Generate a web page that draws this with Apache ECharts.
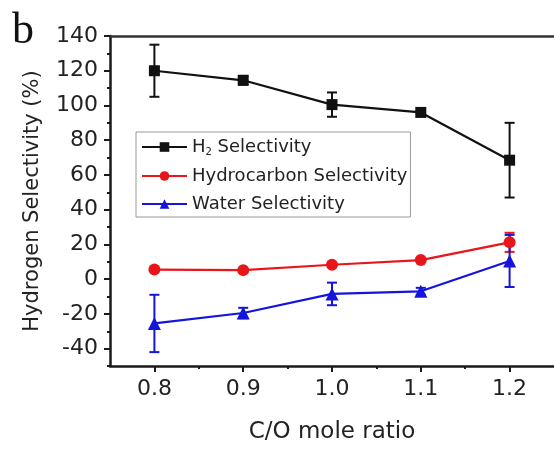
<!DOCTYPE html>
<html><head><meta charset="utf-8">
<script src="https://cdn.jsdelivr.net/npm/echarts/dist/echarts.min.js"></script>
<style>html,body{margin:0;padding:0;background:#fff}#c{width:554px;height:449px}</style>
</head><body><div id="c"></div>
<script>
const ratios = [0.8, 0.9, 1.0, 1.1, 1.2];
const h2Sel = [120, 114.5, 100.5, 96, 68.5];
const h2Err = [15, 2.5, 7, 1, 21.5];
const hcSel = [5.5, 5.2, 8.3, 11, 21.2];
const hcErr = [0.5, 0.5, 0.5, 0.5, 5.5];
const waterSel = [-25.5, -19.5, -8.5, -7, 10.5];
const waterErr = [16.5, 3, 6.5, 2, 15];
const xMajor = [0.8, 0.9, 1.0, 1.1, 1.2];
const xMinor = [0.85, 0.95, 1.05, 1.15];
const yMajor = [-40, -20, 0, 20, 40, 60, 80, 100, 120, 140];
const yMinor = [-50, -30, -10, 10, 30, 50, 70, 90, 110, 130];
const seriesNames = ['H2 Selectivity', 'Hydrocarbon Selectivity', 'Water Selectivity'];

const FONT = 'DejaVu Sans';
const TXT = '#222';
const AX = '#1a1a1a';

function errSeries(vals, errs, color) {
  return {
    type: 'custom',
    silent: true,
    z: 3,
    data: ratios.map((x, i) => [x, vals[i] - errs[i], vals[i] + errs[i]]),
    encode: { x: 0, y: [1, 2] },
    renderItem(params, api) {
      const x = api.value(0);
      const lo = api.coord([x, api.value(1)]);
      const hi = api.coord([x, api.value(2)]);
      const w = 5;
      const style = { stroke: color, lineWidth: 2 };
      return { type: 'group', children: [
        { type: 'line', shape: { x1: lo[0], y1: lo[1], x2: hi[0], y2: hi[1] }, style },
        { type: 'line', shape: { x1: lo[0] - w, y1: lo[1], x2: lo[0] + w, y2: lo[1] }, style },
        { type: 'line', shape: { x1: hi[0] - w, y1: hi[1], x2: hi[0] + w, y2: hi[1] }, style }
      ]};
    }
  };
}
function lineSeries(name, vals, color, symbol, size) {
  return {
    name, type: 'line', z: 4,
    data: ratios.map((x, i) => [x, vals[i]]),
    symbol, symbolSize: size,
    lineStyle: { color, width: 2.2 },
    itemStyle: { color }
  };
}

const chart = echarts.init(document.getElementById('c'), null, { renderer: 'canvas' });
const xBase = { type: 'value', min: 0.75, max: 1.25, splitLine: { show: false } };
const yBase = { type: 'value', min: -50, max: 140, splitLine: { show: false } };
chart.setOption({
  animation: false,
  backgroundColor: '#fff',
  grid: { left: 110, top: 36, right: -7, bottom: 78.5, containLabel: false },
  graphic: [{ type: 'text', left: 12, top: 9, style: { text: 'b', font: '44px "Liberation Serif"', fill: '#111' } }],
  legend: {
    data: seriesNames, orient: 'vertical', left: 136, top: 132,
    itemGap: 10, itemWidth: 45, itemHeight: 12,
    padding: [6, 3, 4, 5], borderColor: '#999', borderWidth: 1,
    formatter: n => n === 'H2 Selectivity' ? '{a|H}{s|2}{a| Selectivity}' : n,
    textStyle: { fontFamily: FONT, fontSize: 18, color: TXT,
      rich: { a: { fontFamily: FONT, fontSize: 18, color: TXT }, s: { fontFamily: FONT, fontSize: 10, color: TXT, padding: [10, 0, 0, 0] } } }
  },
  xAxis: [
    Object.assign({}, xBase, {
      position: 'bottom',
      axisLine: { onZero: false, lineStyle: { color: AX, width: 2.5 } },
      axisTick: { customValues: xMajor, length: 6, lineStyle: { color: AX, width: 2 } },
      axisLabel: { customValues: xMajor, formatter: v => v.toFixed(1), fontFamily: FONT, fontSize: 22, color: TXT, margin: 12 },
      name: 'C/O mole ratio', nameLocation: 'middle', nameGap: 55,
      nameTextStyle: { fontFamily: FONT, fontSize: 23, color: TXT }
    }),
    Object.assign({}, xBase, {
      position: 'bottom',
      axisLine: { show: false, onZero: false },
      axisTick: { customValues: xMinor, length: 3, lineStyle: { color: AX, width: 2 } },
      axisLabel: { show: false }
    }),
    Object.assign({}, xBase, {
      position: 'top',
      axisLine: { onZero: false, lineStyle: { color: '#333', width: 2.5 } },
      axisTick: { show: false }, axisLabel: { show: false }
    })
  ],
  yAxis: [
    Object.assign({}, yBase, {
      position: 'left',
      axisLine: { show: true, onZero: false, lineStyle: { color: AX, width: 2.5 } },
      axisTick: { show: true, customValues: yMajor, length: 6, lineStyle: { color: AX, width: 2 } },
      axisLabel: { customValues: yMajor, fontFamily: FONT, fontSize: 22, color: TXT, margin: 12 },
      name: 'Hydrogen Selectivity (%)', nameLocation: 'middle', nameGap: 67,
      nameTextStyle: { fontFamily: FONT, fontSize: 21, color: TXT }
    }),
    Object.assign({}, yBase, {
      position: 'left',
      axisLine: { show: false, onZero: false },
      axisTick: { show: true, customValues: yMinor, length: 3, lineStyle: { color: AX, width: 2 } },
      axisLabel: { show: false }
    })
  ],
  series: [
    errSeries(h2Sel, h2Err, '#111'),
    errSeries(hcSel, hcErr, '#e8161b'),
    errSeries(waterSel, waterErr, '#1414dc'),
    lineSeries(seriesNames[0], h2Sel, '#111', 'rect', 11),
    lineSeries(seriesNames[1], hcSel, '#e8161b', 'circle', 12),
    lineSeries(seriesNames[2], waterSel, '#1414dc', 'triangle', 13)
  ]
});
</script></body></html>
